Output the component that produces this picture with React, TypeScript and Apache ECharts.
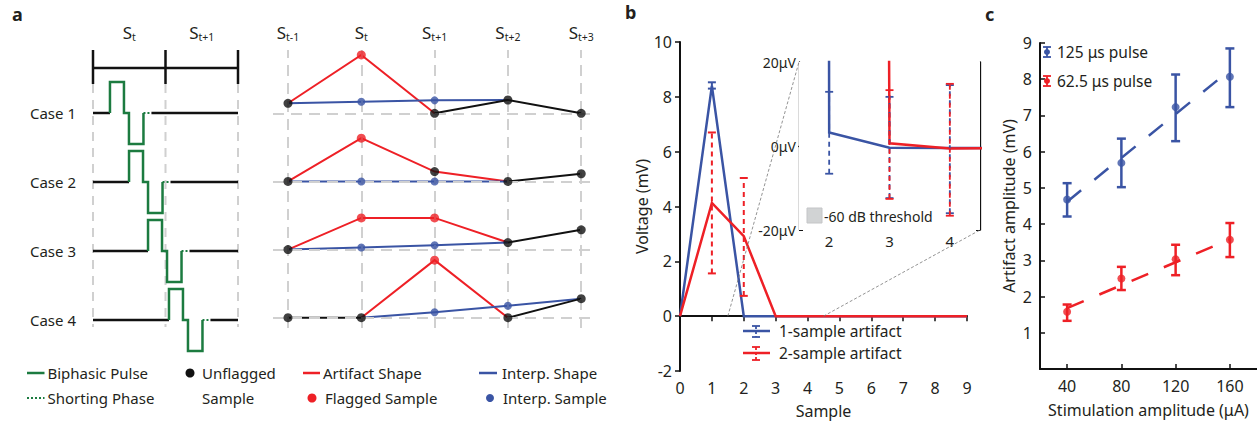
import React, { useEffect, useRef } from 'react';
import * as echarts from 'echarts';

const FONT = '"Noto Sans", "DejaVu Sans", Arial, sans-serif';
const TXT = '#231f20';
const BLUE = '#3a54a4';
const RED = '#ee2026';
const GREEN = '#1c7b40';
const BLACK = '#111111';
const GUIDE = '#d0d0d0';
const BAND = '#d1d3d4';

// ---------- Panel a : schematic ----------
const caseNames = ['Case 1', 'Case 2', 'Case 3', 'Case 4'];
const windowLabels = ['t', 't+1'];
const windowCenters = [0.5, 1.5];
const windowEdges = [0, 1, 2];
const pulseOnset = [0.234, 0.497, 0.759, 1.048]; // in sample widths
const phaseDur = [0.193, 0.069, 0.2, 0.11]; // positive, inter-phase, negative, shorting
const pulseAmp = 0.45;

const sampleX = [0, 1, 2, 3, 4];
const sampleLabels = ['t-1', 't', 't+1', 't+2', 't+3'];
const unflagged = [
  [0.147, null, 0, 0.195, 0],
  [0, null, 0.145, 0, 0.113],
  [0, null, null, 0.103, 0.29],
  [0, 0, null, 0, 0.28],
];
const flagged = [
  [null, 0.856, null, null, null],
  [null, 0.635, null, null, null],
  [null, 0.465, 0.465, null, null],
  [null, null, 0.845, null, null],
];
const interpSamples = [
  [null, 0.17, 0.19, null, null],
  [null, 0, 0, null, null],
  [null, 0.03, 0.063, null, null],
  [null, null, 0.08, 0.176, null],
];
const artifactShape = [
  [0.147, 0.856, 0, null, null],
  [0, 0.635, 0.145, 0, null],
  [0, 0.465, 0.465, 0.103, null],
  [null, 0, 0.845, 0, null],
];
const interpShape = [
  [0.147, 0.17, 0.19, 0.195, null],
  [0, 0, 0, 0, null],
  [0, 0.03, 0.063, 0.103, null],
  [null, 0, 0.08, 0.176, 0.28],
];
const signalShape = [
  [null, null, 0, 0.195, 0],
  [null, null, null, 0, 0.113],
  [null, null, null, 0.103, 0.29],
  [0, 0, null, 0, 0.28],
];

// ---------- Panel b ----------
const sampleIdx = [0, 1, 2, 3, 4, 5, 6, 7, 8, 9];
const art1 = [0, 8.4, 0, 0, 0, 0, 0, 0, 0, 0];
const art2 = [0, 4.13, 2.92, 0, 0, 0, 0, 0, 0, 0];
const art1Err = [[1, 8.3, 8.53]];
const art2Err = [[1, 1.56, 6.7], [2, 0.74, 5.04]];
const insetIdx = [1, 2, 3, 4, 5];
const art1Uv = [8400, 3.2, -0.4, -0.5, -0.5];
const art2Uv = [4130, 2920, 0.65, -0.6, -0.5];
const art1ErrUv = [[2, -6.6, 12.9], [3, -12.4, 11.7], [4, -16, 14.5]];
const art2ErrUv = [[3, -12.6, 13.3], [4, -16.6, 14.8]];
const thresholdUv = 9;
const zoomX = [1.5, 4.5];
const zoomY = [-20, 20];

// ---------- Panel c ----------
const stimAmps = [40, 80, 120, 160];
const pulse125 = [4.68, 5.69, 7.23, 8.07];
const pulse125Lo = [4.21, 5.02, 6.29, 7.23];
const pulse125Hi = [5.13, 6.36, 8.13, 8.85];
const pulse62 = [1.58, 2.5, 3.03, 3.57];
const pulse62Lo = [1.33, 2.18, 2.59, 3.09];
const pulse62Hi = [1.78, 2.82, 3.43, 4.03];
const fit125 = [[40, 4.62], [160, 8.25]];
const fit62 = [[40, 1.68], [160, 3.58]];

// ---------- helpers ----------
const LEFT_Y = { min: -0.145, max: 3.913 };
const RIGHT_Y = { min: -0.151, max: 3.929 };
const TIMELINE_Y = 3.652;
const TICK_TOP = 3.913;
const TICK_BOT = 3.42;
const GUIDE_BOT = -0.1;

const hidden = {
  axisLine: { show: false },
  axisTick: { show: false },
  splitLine: { show: false },
  axisLabel: { show: false },
};

function lineSeries(xi: number, yi: number, data: any[], color: string, width: number, type: any = 'solid', z = 3) {
  return {
    type: 'line', xAxisIndex: xi, yAxisIndex: yi, data,
    showSymbol: false, symbol: 'none', connectNulls: false, clip: false, silent: true, z,
    lineStyle: { color, width, type, join: 'miter', cap: 'butt' },
  };
}

function errorBars(xi: number, yi: number, data: number[][], color: string, dashed: boolean, capW: number, lw: number, z = 4) {
  return {
    type: 'custom', xAxisIndex: xi, yAxisIndex: yi, data, silent: true, z,
    renderItem: (_p: any, api: any) => {
      const x = api.value(0);
      const lo = api.coord([x, api.value(1)]);
      const hi = api.coord([x, api.value(2)]);
      const hw = capW / 2;
      return {
        type: 'group',
        children: [
          { type: 'line', shape: { x1: lo[0], y1: lo[1], x2: hi[0], y2: hi[1] }, style: { stroke: color, lineWidth: lw, lineDash: dashed ? [5, 4] : null } },
          { type: 'line', shape: { x1: lo[0] - hw, y1: lo[1], x2: lo[0] + hw, y2: lo[1] }, style: { stroke: color, lineWidth: lw } },
          { type: 'line', shape: { x1: hi[0] - hw, y1: hi[1], x2: hi[0] + hw, y2: hi[1] }, style: { stroke: color, lineWidth: lw } },
        ],
      };
    },
  };
}

const toPts = (row: (number | null)[], base: number) =>
  row.map((v, i) => (v === null ? [sampleX[i], '-'] : [sampleX[i], base + v]));
const toDots = (rows: (number | null)[][]) => {
  const out: number[][] = [];
  rows.forEach((row, c) => row.forEach((v, i) => { if (v !== null) out.push([sampleX[i], 3 - c + v]); }));
  return out;
};

function buildSeries() {
  const s: any[] = [];
  // left schematic: timeline + guides
  windowEdges.forEach((t) => {
    s.push(lineSeries(0, 0, [[t, TICK_BOT], [t, GUIDE_BOT]], GUIDE, 2, [9, 7], 1));
    s.push(lineSeries(0, 0, [[t, TICK_TOP], [t, TICK_BOT]], BLACK, 2.5, 'solid', 3));
  });
  s.push(lineSeries(0, 0, [[windowEdges[0], TIMELINE_Y], [windowEdges[2], TIMELINE_Y]], BLACK, 2.5));
  pulseOnset.forEach((on, c) => {
    const b = 3 - c;
    const [p, g, n, sh] = phaseDur;
    const t1 = on, t2 = t1 + p, t3 = t2 + g, t4 = t3 + n, t5 = t4 + sh;
    s.push(lineSeries(0, 0, [[0, b], [t1, b]], BLACK, 2.5));
    s.push(lineSeries(0, 0, [[t5, b], [2, b]], BLACK, 2.5));
    s.push(lineSeries(0, 0, [[t1, b], [t1, b + pulseAmp], [t2, b + pulseAmp], [t2, b], [t3, b], [t3, b - pulseAmp], [t4, b - pulseAmp], [t4, b]], GREEN, 2.5, 'solid', 4));
    s.push(lineSeries(0, 0, [[t4, b], [t5, b]], GREEN, 2, [2, 2], 4));
  });
  // right schematic guides
  s.push({
    type: 'line', xAxisIndex: 1, yAxisIndex: 1, data: [[0, 0]], showSymbol: false, symbol: 'none',
    lineStyle: { width: 0, opacity: 0 }, silent: true, z: 1,
    markLine: {
      symbol: ['none', 'none'], silent: true, label: { show: false },
      lineStyle: { color: GUIDE, width: 2, type: [11, 7] },
      data: [...sampleX.map((x) => ({ xAxis: x })), ...[0, 1, 2, 3].map((y) => ({ yAxis: y }))],
    },
  });
  for (let c = 0; c < 4; c++) {
    const b = 3 - c;
    s.push(lineSeries(1, 1, toPts(artifactShape[c], b), RED, 2));
    s.push(lineSeries(1, 1, toPts(interpShape[c], b), BLUE, 2));
    s.push(lineSeries(1, 1, toPts(signalShape[c], b), BLACK, 2));
  }
  s.push({ type: 'scatter', xAxisIndex: 1, yAxisIndex: 1, data: toDots(flagged), symbolSize: 9, itemStyle: { color: RED }, z: 5, silent: true });
  s.push({ type: 'scatter', xAxisIndex: 1, yAxisIndex: 1, data: toDots(interpSamples), symbolSize: 8, itemStyle: { color: BLUE }, z: 5, silent: true });
  s.push({ type: 'scatter', xAxisIndex: 1, yAxisIndex: 1, data: toDots(unflagged), symbolSize: 9, itemStyle: { color: BLACK }, z: 6, silent: true });

  // panel b main
  s.push({ ...lineSeries(2, 2, sampleIdx.map((x, i) => [x, art1[i]]), BLUE, 2.5, 'solid', 3), clip: true });
  s.push({ ...lineSeries(2, 2, sampleIdx.map((x, i) => [x, art2[i]]), RED, 2.5, 'solid', 4), clip: true });
  s.push(errorBars(2, 2, art1Err, BLUE, false, 8, 2, 5));
  s.push(errorBars(2, 2, art2Err, RED, true, 8, 2, 5));

  // inset
  s.push({
    type: 'line', xAxisIndex: 3, yAxisIndex: 3, data: [[zoomX[0], 0]], showSymbol: false, symbol: 'none',
    lineStyle: { width: 0, opacity: 0 }, silent: true, z: 1,
    markArea: { silent: true, itemStyle: { color: BAND }, data: [[{ yAxis: -thresholdUv }, { yAxis: thresholdUv }]] },
  });
  s.push({ ...lineSeries(3, 3, insetIdx.map((x, i) => [x, art1Uv[i]]), BLUE, 2.5, 'solid', 3), clip: true });
  s.push({ ...lineSeries(3, 3, insetIdx.map((x, i) => [x, art2Uv[i]]), RED, 2.5, 'solid', 4), clip: true });
  s.push(errorBars(3, 3, art1ErrUv, BLUE, true, 8, 1.8, 5));
  s.push(errorBars(3, 3, art2ErrUv, RED, true, 8, 1.8, 6));

  // panel c
  s.push(lineSeries(5, 5, fit125, BLUE, 2.5, [18, 17], 3));
  s.push(lineSeries(5, 5, fit62, RED, 2.5, [18, 17], 3));
  s.push(errorBars(5, 5, stimAmps.map((x, i) => [x, pulse125Lo[i], pulse125Hi[i]]), BLUE, false, 9, 2.5, 4));
  s.push(errorBars(5, 5, stimAmps.map((x, i) => [x, pulse62Lo[i], pulse62Hi[i]]), RED, false, 9, 2.5, 4));
  s.push({ type: 'scatter', xAxisIndex: 5, yAxisIndex: 5, data: stimAmps.map((x, i) => [x, pulse125[i]]), symbolSize: 8, itemStyle: { color: BLUE }, z: 5, silent: true });
  s.push({ type: 'scatter', xAxisIndex: 5, yAxisIndex: 5, data: stimAmps.map((x, i) => [x, pulse62[i]]), symbolSize: 8, itemStyle: { color: RED }, z: 5, silent: true });
  return s;
}

const subRich = {
  s: { fontSize: 17, lineHeight: 20, color: TXT, fontFamily: FONT },
  b: { fontSize: 10.5, lineHeight: 12, verticalAlign: 'bottom', color: TXT, fontFamily: FONT },
};

function buildOption() {
  const axLine = { show: true, lineStyle: { color: BLACK, width: 2 } };
  const lbl = { color: TXT, fontSize: 16, fontFamily: FONT };
  return {
    animation: false,
    backgroundColor: '#ffffff',
    textStyle: { fontFamily: FONT },
    grid: [
      { left: 93, top: 50, width: 145, height: 280 },
      { left: 273, top: 50, width: 317, height: 278 },
      { left: 680, top: 42, width: 287, height: 329 },
      { left: 799, top: 62, width: 181, height: 168, show: true, backgroundColor: '#ffffff', borderWidth: 0, z: 2 },
      { left: 1040, top: 43, width: 218, height: 326 },
    ],
    xAxis: [
      {
        gridIndex: 0, type: 'value', min: 0, max: 2, position: 'top', ...hidden,
        axisLabel: {
          show: true, customValues: windowCenters, margin: 8, rich: subRich,
          formatter: (v: number) => `{s|S}{b|${windowLabels[windowCenters.indexOf(v)]}}`,
        },
      },
      {
        gridIndex: 1, type: 'value', min: -0.2046, max: 4.12, position: 'top', ...hidden,
        axisLabel: {
          show: true, customValues: sampleX, margin: 8, rich: subRich,
          formatter: (v: number) => `{s|S}{b|${sampleLabels[Math.round(v)]}}`,
        },
      },
      {
        gridIndex: 2, type: 'value', min: 0, max: 9, interval: 1,
        axisLine: axLine, axisTick: { show: true, length: 5, lineStyle: { color: BLACK, width: 1.5 } },
        splitLine: { show: false }, axisLabel: { ...lbl, margin: 9 },
        name: 'Sample', nameLocation: 'middle', nameGap: 32, nameTextStyle: { ...lbl },
      },
      {
        gridIndex: 3, type: 'value', min: zoomX[0], max: zoomX[1],
        axisLine: { show: true, lineStyle: { color: BLACK, width: 1.3 } },
        axisTick: { show: true, inside: true, length: 4, customValues: [2, 3, 4], lineStyle: { color: BLACK } },
        splitLine: { show: false }, axisLabel: { ...lbl, fontSize: 15, margin: 3, customValues: [2, 3, 4] },
      },
      {
        gridIndex: 3, type: 'value', min: zoomX[0], max: zoomX[1], position: 'top',
        axisLine: { show: true, lineStyle: { color: BLACK, width: 1.3 } },
        axisTick: { show: true, inside: true, length: 4, customValues: [2, 3, 4], lineStyle: { color: BLACK } },
        splitLine: { show: false }, axisLabel: { show: false },
      },
      {
        gridIndex: 4, type: 'value', min: 20, max: 180,
        axisLine: axLine,
        axisTick: { show: true, inside: true, length: 5, customValues: stimAmps, lineStyle: { color: BLACK, width: 1.5 } },
        splitLine: { show: false }, axisLabel: { ...lbl, margin: 9, customValues: stimAmps },
        name: 'Stimulation amplitude (μA)', nameLocation: 'middle', nameGap: 33, nameTextStyle: { ...lbl },
      },
    ],
    yAxis: [
      {
        gridIndex: 0, type: 'value', min: LEFT_Y.min, max: LEFT_Y.max, ...hidden,
        axisLabel: {
          show: true, customValues: [0, 1, 2, 3], margin: 17, color: TXT, fontSize: 15, fontFamily: FONT,
          formatter: (v: number) => caseNames[3 - Math.round(v)],
        },
      },
      { gridIndex: 1, type: 'value', min: RIGHT_Y.min, max: RIGHT_Y.max, ...hidden },
      {
        gridIndex: 2, type: 'value', min: -2, max: 10, interval: 2,
        axisLine: axLine, axisTick: { show: true, length: 5, lineStyle: { color: BLACK, width: 1.5 } },
        splitLine: { show: false }, axisLabel: { ...lbl, margin: 8 },
        name: 'Voltage (mV)', nameLocation: 'middle', nameGap: 27, nameTextStyle: { ...lbl },
      },
      {
        gridIndex: 3, type: 'value', min: zoomY[0], max: zoomY[1], interval: 5,
        axisLine: { show: true, lineStyle: { color: BLACK, width: 1.3 } },
        axisTick: { show: true, inside: true, length: 4, lineStyle: { color: BLACK } },
        splitLine: { show: false },
        axisLabel: {
          ...lbl, fontSize: 14, margin: 3,
          formatter: (v: number) => (v === 20 ? '20μV' : v === 0 ? '0μV' : v === -20 ? '-20μV' : ''),
        },
      },
      {
        gridIndex: 3, type: 'value', min: zoomY[0], max: zoomY[1], interval: 5, position: 'right',
        axisLine: { show: true, lineStyle: { color: BLACK, width: 1.3 } },
        axisTick: { show: true, inside: true, length: 4, lineStyle: { color: BLACK } },
        splitLine: { show: false }, axisLabel: { show: false },
      },
      {
        gridIndex: 4, type: 'value', min: 0, max: 9, interval: 1,
        axisLine: axLine, axisTick: { show: true, inside: true, length: 5, lineStyle: { color: BLACK, width: 1.5 } },
        splitLine: { show: false }, axisLabel: { ...lbl, margin: 8, formatter: (v: number) => (v === 0 ? '' : String(v)) },
        name: 'Artifact amplitude (mV)', nameLocation: 'middle', nameGap: 23, nameTextStyle: { ...lbl },
      },
    ],
    series: buildSeries(),
  };
}

function txt(text: string, x: number, y: number, size = 15, extra: any = {}) {
  return {
    type: 'text', x, y, silent: true, z: 20,
    style: { text, fill: TXT, fontSize: size, fontFamily: FONT, textAlign: 'left', textVerticalAlign: 'middle', ...extra },
  };
}
function seg(x1: number, y1: number, x2: number, y2: number, stroke: string, lineWidth: number, lineDash: any = null) {
  return { type: 'line', silent: true, z: 20, shape: { x1, y1, x2, y2 }, style: { stroke, lineWidth, lineDash } };
}
function dot(cx: number, cy: number, r: number, fill: string) {
  return { type: 'circle', silent: true, z: 20, shape: { cx, cy, r }, style: { fill } };
}
function errGlyph(x: number, y1: number, y2: number, color: string, dashed: boolean) {
  return [
    seg(x, y1, x, y2, color, 1.8, dashed ? [3, 2] : null),
    seg(x - 4, y1, x + 4, y1, color, 1.8),
    seg(x - 4, y2, x + 4, y2, color, 1.8),
  ];
}

function buildGraphic(conn: number[][]) {
  const r1 = 373, r2 = 398;
  const els: any[] = [
    txt('a', 12, 14, 18, { fontWeight: 'bold' }),
    txt('b', 625, 12, 18, { fontWeight: 'bold' }),
    txt('c', 985, 14, 18, { fontWeight: 'bold' }),
    // panel a legend
    seg(27, r1, 44.5, r1, GREEN, 2.5),
    txt('Biphasic Pulse', 47.5, r1),
    seg(27, r2, 44.5, r2, GREEN, 2, [2, 2]),
    txt('Shorting Phase', 47.5, r2),
    dot(190, r1, 4.5, BLACK),
    txt('Unflagged', 202, r1),
    txt('Sample', 202, r2),
    seg(303, r1, 320, r1, RED, 2.5),
    txt('Artifact Shape', 323, r1),
    dot(312, r2, 4.5, RED),
    txt('Flagged Sample', 325, r2),
    seg(479, r1, 497, r1, BLUE, 2.5),
    txt('Interp. Shape', 502, r1),
    dot(490, r2, 4, BLUE),
    txt('Interp. Sample', 503, r2),
    // panel b legend
    seg(743, 331, 770, 331, BLUE, 2.5),
    ...errGlyph(756, 326, 337, BLUE, true),
    txt('1-sample artifact', 779, 331, 15.5),
    seg(743, 353, 770, 353, RED, 2.5),
    ...errGlyph(756, 347, 360, RED, true),
    txt('2-sample artifact', 779, 353, 15.5),
    // inset legend
    { type: 'rect', silent: true, z: 20, shape: { x: 807, y: 208, width: 15, height: 15 }, style: { fill: BAND, stroke: '#c4c5c7', lineWidth: 1 } },
    txt('-60 dB threshold', 824, 216, 14),
    // panel c legend
    ...errGlyph(1047, 47, 57, BLUE, false),
    dot(1047, 52, 3, BLUE),
    txt('125 μs pulse', 1057, 52, 15.5),
    ...errGlyph(1047, 76, 86, RED, false),
    dot(1047, 81, 3, RED),
    txt('62.5 μs pulse', 1057, 81, 15.5),
  ];
  if (conn.length === 4) {
    els.push(seg(conn[0][0], conn[0][1], conn[1][0], conn[1][1], '#777777', 0.8, [3, 2]));
    els.push(seg(conn[2][0], conn[2][1], conn[3][0], conn[3][1], '#777777', 0.8, [3, 2]));
  }
  return els;
}

export default function App() {
  const ref = useRef<HTMLDivElement>(null);
  useEffect(() => {
    const el = ref.current as HTMLDivElement;
    const chart = echarts.init(el, null, { renderer: 'svg', width: 1257, height: 424 });
    chart.setOption(buildOption() as any);
    let conn: number[][] = [];
    try {
      const a = chart.convertToPixel({ gridIndex: 2 } as any, [zoomX[0], 0]) as number[];
      const b = chart.convertToPixel({ gridIndex: 3 } as any, [zoomX[0], zoomY[1]]) as number[];
      const c = chart.convertToPixel({ gridIndex: 2 } as any, [zoomX[1], 0]) as number[];
      const d = chart.convertToPixel({ gridIndex: 3 } as any, [zoomX[1], zoomY[0]]) as number[];
      if (a && b && c && d) conn = [a, b, c, d];
    } catch (e) {
      conn = [];
    }
    chart.setOption({ graphic: buildGraphic(conn) } as any);
    return () => chart.dispose();
  }, []);
  return (
    <div
      ref={ref}
      style={{ position: 'fixed', left: 0, top: 0, width: 1257, height: 424, background: '#ffffff' }}
    />
  );
}
